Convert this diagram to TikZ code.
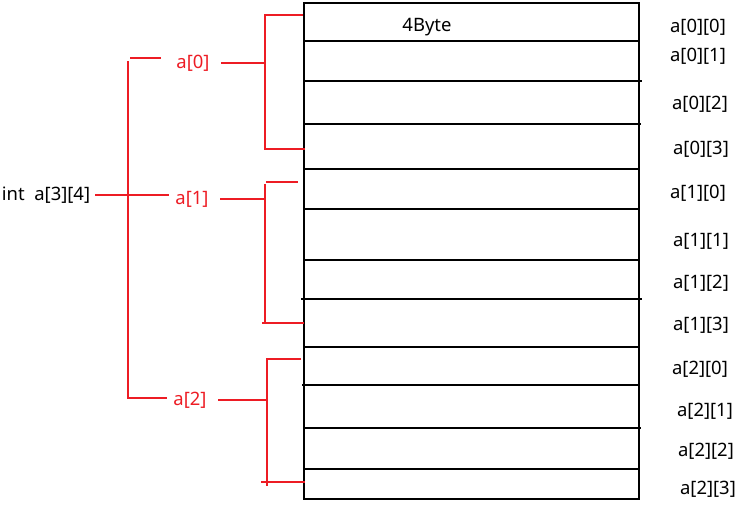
\documentclass[tikz,border=0pt]{standalone}
\usepackage{fontspec}
\setmainfont{Noto Sans}
\usepackage{tikz}
\usepackage{xcolor}
\definecolor{brk}{RGB}{237,28,36}

\begin{document}
\begin{tikzpicture}[font=\fontsize{10.5}{12}\selectfont,line cap=rect,
  cell/.style={black,line width=1.1pt},
  brace/.style={brk,line width=1pt},
  sub/.style={text=brk,inner sep=1pt},
  elem/.style={anchor=west,inner sep=1pt}]
\useasboundingbox (0,0) rectangle (15,-10.44);
% memory block
\draw[cell] (6.08,-0.06) rectangle (12.78,-9.98);
\draw[cell] (6.08,-0.82) -- (12.78,-0.82);
\draw[cell] (6.08,-1.62) -- (12.82,-1.62);
\draw[cell] (6.12,-2.48) -- (12.80,-2.48);
\draw[cell] (6.08,-3.38) -- (12.78,-3.38);
\draw[cell] (6.08,-4.18) -- (12.74,-4.18);
\draw[cell] (6.08,-5.20) -- (12.78,-5.20);
\draw[cell] (6.04,-5.98) -- (12.82,-5.98);
\draw[cell] (6.08,-6.94) -- (12.74,-6.94);
\draw[cell] (6.06,-7.70) -- (12.78,-7.70);
\draw[cell] (6.12,-8.56) -- (12.80,-8.56);
\draw[cell] (6.08,-9.38) -- (12.78,-9.38);
\node (byte) at (8.54,-0.54) {4Byte};
% element names
\node[elem] (e00) at (13.36,-0.54) {a[0][0]};
\node[elem] (e01) at (13.36,-1.12) {a[0][1]};
\node[elem] (e02) at (13.40,-2.08) {a[0][2]};
\node[elem] (e03) at (13.42,-2.98) {a[0][3]};
\node[elem] (e10) at (13.36,-3.86) {a[1][0]};
\node[elem] (e11) at (13.42,-4.82) {a[1][1]};
\node[elem] (e12) at (13.42,-5.66) {a[1][2]};
\node[elem] (e13) at (13.42,-6.50) {a[1][3]};
\node[elem] (e20) at (13.40,-7.38) {a[2][0]};
\node[elem] (e21) at (13.50,-8.22) {a[2][1]};
\node[elem] (e22) at (13.52,-9.02) {a[2][2]};
\node[elem] (e23) at (13.56,-9.78) {a[2][3]};
% rows a[0] a[1] a[2]
\node (arr) at (0.92,-3.90) {int\ \ a[3][4]};
\node[sub] (a0) at (3.86,-1.26) {a[0]};
\node[sub] (a1) at (3.84,-3.98) {a[1]};
\node[sub] (a2) at (3.80,-8.00) {a[2]};
\coordinate (m0) at (5.30,-1.26);
\coordinate (m1) at (5.30,-3.98);
\coordinate (m2) at (5.34,-8.00);
\draw[brace] (6.04,-0.30) -- (5.30,-0.30) -- (5.30,-2.98) -- (6.08,-2.98);
\draw[brace] (5.94,-3.64) -- (5.34,-3.64);
\draw[brace] (5.30,-3.70) -- (5.30,-6.46);
\draw[brace] (5.26,-6.46) -- (6.06,-6.46);
\draw[brace] (6.00,-7.18) -- (5.34,-7.18) -- (5.34,-9.70);
\draw[brace] (5.24,-9.64) -- (6.08,-9.64);
\draw[brace] (a0.east) ++(0.2,0) -- (m0);
\draw[brace] (a1.east) ++(0.2,0) -- (m1);
\draw[brace] (a2.east) ++(0.2,0) -- (m2);
% outer bracket
\draw[brace] (2.62,-1.16) -- (3.20,-1.16);
\draw[brace] (2.56,-1.24) -- (2.56,-7.96) -- (3.32,-7.96);
\draw[brace] (arr.east) -- ([xshift=-3pt]arr.east -| a1.west);
\end{tikzpicture}
\end{document}
